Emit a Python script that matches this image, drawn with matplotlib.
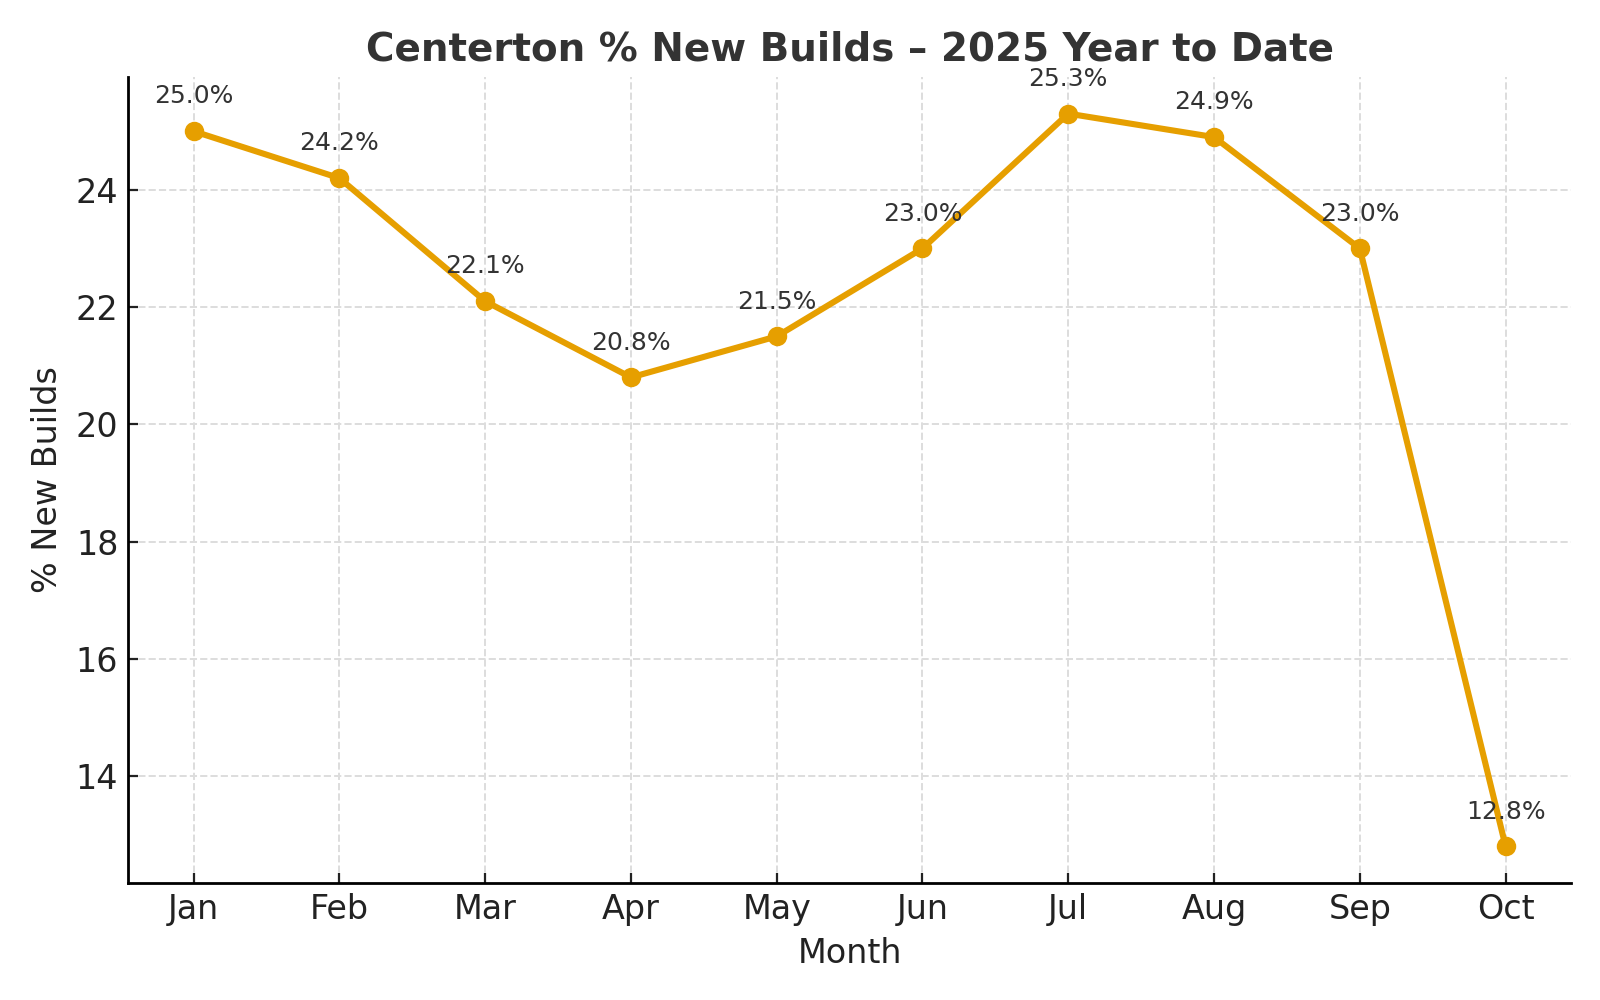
import matplotlib.pyplot as plt

# data
months = ["Jan", "Feb", "Mar", "Apr", "May", "Jun", "Jul", "Aug", "Sep", "Oct"]
pct_new = [25.0, 24.2, 22.1, 20.8, 21.5, 23.0, 25.3, 24.9, 23.0, 12.8]

line_color = "#E69F00"

fig, ax = plt.subplots(figsize=(8, 5), dpi=200)

ax.plot(months, pct_new, marker="o", color=line_color, linewidth=2.2, markersize=6)

# value labels above points
for i, v in enumerate(pct_new):
    ax.annotate(f"{v:.1f}%", (i, v), textcoords="offset points", xytext=(0, 10),
                ha="center", fontsize=9, color="#333333")

ax.set_title("Centerton % New Builds \u2013 2025 Year to Date", fontsize=14,
             fontweight="bold", color="#333333")
ax.set_xlabel("Month", fontsize=12, color="#222222")
ax.set_ylabel("% New Builds", fontsize=12, color="#222222")
ax.tick_params(labelsize=12, colors="#222222", direction="in")

ax.grid(True, linestyle="--", color="#dddddd", linewidth=0.7)
ax.set_axisbelow(True)
ax.spines["top"].set_visible(False)
ax.spines["right"].set_visible(False)
for s in ["left", "bottom"]:
    ax.spines[s].set_linewidth(1.0)

plt.subplots_adjust(left=0.080, right=0.982, top=0.923, bottom=0.117)
plt.savefig("out.png")
